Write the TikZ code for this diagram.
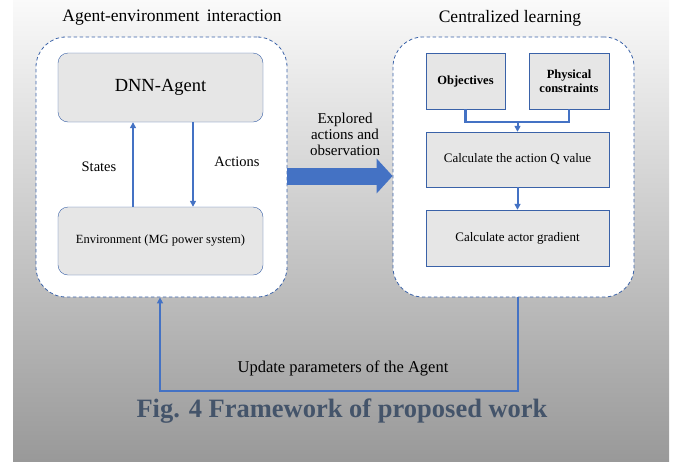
\documentclass[tikz,border=0pt]{standalone}
\usepackage{fontspec}
\setmainfont{Liberation Serif}
\usetikzlibrary{arrows.meta}
\usetikzlibrary{calc}
\usetikzlibrary{positioning}
\definecolor{lineblue}{HTML}{4472C4}
\definecolor{edgeblue}{HTML}{3A62A8}
\definecolor{boxgray}{HTML}{E6E6E6}
\definecolor{capgray}{HTML}{44546A}

\begin{document}
\begin{tikzpicture}[
  x = 1pt, y = -1pt,
  > = {Triangle[length=6pt,width=6pt]},
  group/.style = {draw=edgeblue,line width=0.8pt,dash pattern=on 3.5pt off 2.5pt,fill=white,rounded corners=30pt,minimum height=260pt},
  rbox/.style = {draw=edgeblue,fill=boxgray,rounded corners=10pt,minimum width=205pt,minimum height=69pt},
  sbox/.style = {draw=edgeblue,fill=boxgray,align=center,inner sep=2pt},
  flow/.style = {draw=lineblue,line width=2pt},
  head/.style = {font=\fontsize{17.5}{19}\selectfont},
  lbl/.style = {font=\fontsize{14.5}{16}\selectfont,align=center}
  ]
  % background
  \useasboundingbox (0,0) rectangle (674,461);
  \shade[top color=white!98!black,bottom color=black!40] (13,0) rectangle (669,461);

  % agent-environment side
  \node[head] (@t1) at (172,18) {Agent-environment\hspace{3pt} interaction};
  \node[group,minimum width=251pt] (@left) at (161.5,167) {};
  \node[rbox,font=\fontsize{18.5}{20}\selectfont] (@agent) at (160.5,87.5) {DNN-Agent};
  \node[rbox,minimum height=68pt,font=\fontsize{12.5}{14}\selectfont] (@env) at (160.5,241) {Environment (MG power system)};
  \draw[flow,->] ([xshift=-27.5pt]@env.north) -- ([xshift=-27.5pt]@agent.south);
  \draw[flow,->] ([xshift=32.5pt]@agent.south) -- ([xshift=32.5pt]@env.north);
  \node[lbl] (@states) at (99,167) {States};
  \node[lbl] (@actions) at (237,162) {Actions};

  % centralized learning side
  \node[head] (@t2) at (510,18) {Centralized learning};
  \node[group,minimum width=241pt] (@right) at (513.5,167) {};
  \node[sbox,minimum width=79pt,minimum height=56pt,font=\fontsize{12.5}{14}\bfseries] (@obj) at (465.5,81) {Objectives};
  \node[sbox,minimum width=80pt,minimum height=56pt,font=\fontsize{12.5}{14}\bfseries] (@phys) at (569,81) {Physical\\constraints};
  \node[sbox,minimum width=183pt,minimum height=55pt,font=\fontsize{13}{15}\selectfont] (@qval) at (517.5,159.5) {Calculate the action Q value};
  \node[sbox,minimum width=183pt,minimum height=56pt,font=\fontsize{13}{15}\selectfont] (@grad) at (517.5,238) {Calculate actor gradient};
  \coordinate (@join) at ([yshift=10pt]@qval.north);
  \draw[flow,line width=2.5pt] (@obj.south) |- (@join) -| (@phys.south);
  \draw[flow,->] (@join) -- (@qval.north);
  \draw[flow,->] (@qval.south) -- (@grad.north);

  % exchange between the two sides
  \draw[lineblue,line width=17pt,-{Triangle[length=16pt,width=34pt]}] ([yshift=-9pt]@left.east) -- ([yshift=-9pt]@right.west);
  \node[lbl,font=\fontsize{15}{16}\selectfont] (@explored) at (345,134) {Explored\\actions and\\observation};

  \coordinate (@corner) at (160,391);
  \draw[flow,->] (@right.south -| @grad.south) |- (@corner) -- (@left.south -| @corner);
  \node[lbl,font=\fontsize{16.5}{18}\selectfont] (@update) at (343,368) {Update parameters of the Agent};

  \node[text=capgray,font=\fontsize{26.5}{30}\bfseries] (@caption) at (342,411) {Fig. 4 Framework of proposed work};
\end{tikzpicture}
\end{document}
